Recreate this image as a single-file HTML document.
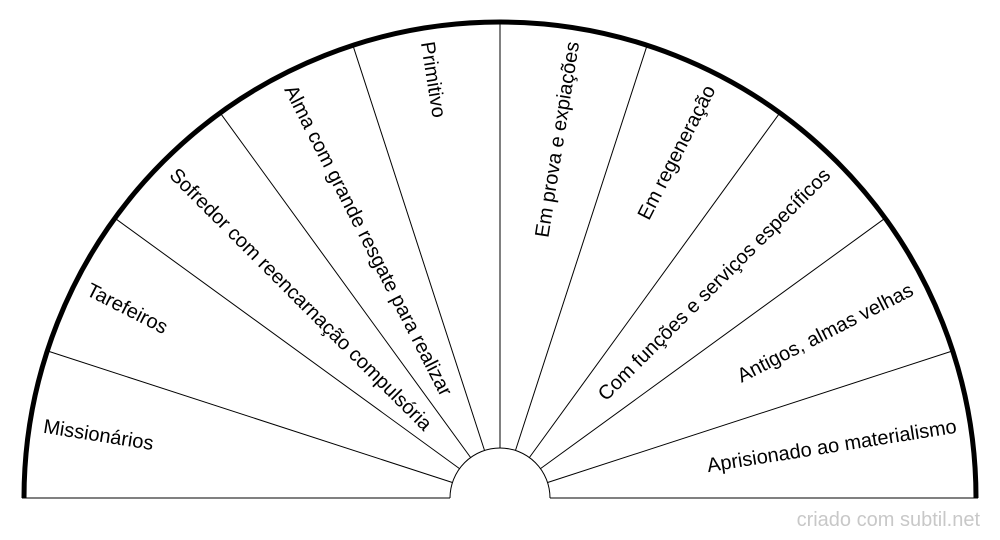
<!DOCTYPE html>
<html><head><meta charset="utf-8"><style>html,body{margin:0;padding:0;background:#fff}svg{display:block}</style></head>
<body>
<svg width="1000" height="540" viewBox="0 0 1000 540" xmlns="http://www.w3.org/2000/svg" font-family="Liberation Sans, sans-serif" font-size="20">
<rect width="1000" height="540" fill="#fff"/>
<g stroke="#000" stroke-width="1" fill="none">
<line x1="22" y1="498" x2="450" y2="498"/>
<line x1="550" y1="498" x2="978" y2="498"/>
<path d="M450 498 A50 50 0 0 1 550 498"/>
<line x1="452.4" y1="482.5" x2="47.3" y2="350.9"/>
<line x1="459.5" y1="468.6" x2="114.9" y2="218.2"/>
<line x1="470.6" y1="457.5" x2="220.2" y2="112.9"/>
<line x1="484.5" y1="450.4" x2="352.9" y2="45.3"/>
<line x1="500" y1="448" x2="500" y2="22"/>
<line x1="515.5" y1="450.4" x2="647.1" y2="45.3"/>
<line x1="529.4" y1="457.5" x2="779.8" y2="112.9"/>
<line x1="540.5" y1="468.6" x2="885.1" y2="218.2"/>
<line x1="547.6" y1="482.5" x2="952.7" y2="350.9"/>
</g>
<path d="M24 498 A476 476 0 0 1 976 498" stroke="#000" stroke-width="5" fill="none"/>
<g fill="#000">
<text transform="translate(500 498) rotate(9) translate(-462 0)" dy="7">Missionários</text>
<text transform="translate(500 498) rotate(27) translate(-462 0)" dy="7">Tarefeiros</text>
<text transform="translate(500 498) rotate(45) translate(-462 0)" dy="7">Sofredor com reencarnação compulsória</text>
<text transform="translate(500 498) rotate(63) translate(-462 0)" dy="7">Alma com grande resgate para realizar</text>
<text transform="translate(500 498) rotate(81) translate(-462 0)" dy="7">Primitivo</text>
<text transform="translate(500 498) rotate(-81) translate(462 0)" dy="7" text-anchor="end">Em prova e expiações</text>
<text transform="translate(500 498) rotate(-63) translate(462 0)" dy="7" text-anchor="end">Em regeneração</text>
<text transform="translate(500 498) rotate(-45) translate(462 0)" dy="7" text-anchor="end">Com funções e serviços específicos</text>
<text transform="translate(500 498) rotate(-27) translate(462 0)" dy="7" text-anchor="end">Antigos, almas velhas</text>
<text transform="translate(500 498) rotate(-9) translate(462 0)" dy="7" text-anchor="end">Aprisionado ao materialismo</text>
</g>
<text x="980" y="526" text-anchor="end" fill="#c8c8c8" font-size="20">criado com subtil.net</text>
</svg>
</body></html>
